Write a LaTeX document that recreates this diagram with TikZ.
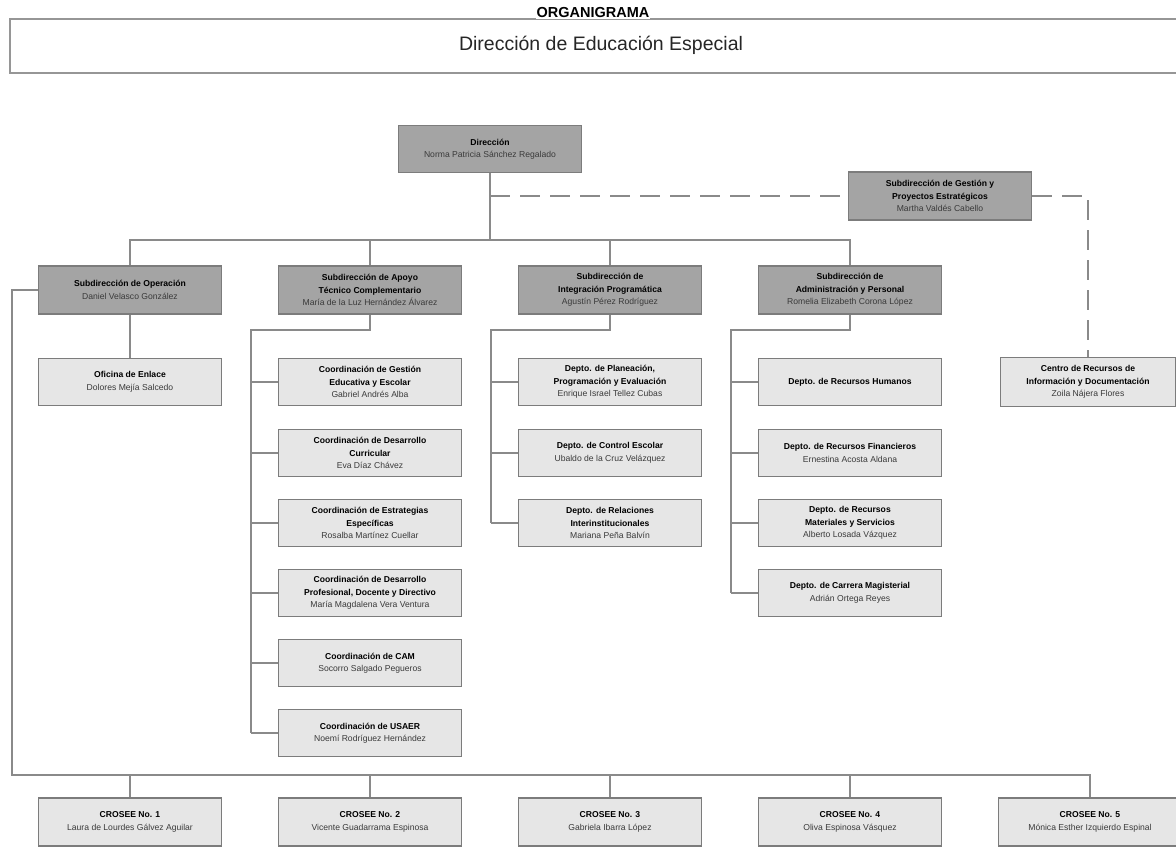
\documentclass[tikz,border=0pt]{standalone}
\usepackage{fontspec}
\setmainfont{Liberation Sans}
\definecolor{darkfill}{HTML}{A4A4A4}
\definecolor{lightfill}{HTML}{E6E6E6}
\definecolor{edgegray}{HTML}{7C7C7C}
\definecolor{wiregray}{HTML}{8A8A8A}
\definecolor{namegray}{HTML}{3A3A3A}
\newcommand{\who}[1]{\textcolor{namegray}{#1}}

\begin{document}
\begin{tikzpicture}[x=1pt,y=-1pt,
        unit/.style={draw=edgegray, line width=1.5pt, minimum width=183pt, minimum height=47pt,
            align=center, inner sep=2pt, font=\fontsize{8.6}{12.5}\selectfont},
        topunit/.style={unit, fill=darkfill},
        lowunit/.style={unit, fill=lightfill},
        wire/.style={draw=wiregray, line width=1.6pt},
        dashwire/.style={wire, dash pattern=on 20pt off 10pt}]
    \clip (0,0) rectangle (1176,848);
    \fill[white] (0,0) rectangle (1176,848);

    % encabezado
    \draw[edgegray!80, line width=1.2pt] (10,19) rectangle (1190,73);
    \node[fill=white, inner sep=1pt, font=\fontsize{14.5}{16}\selectfont\bfseries] (org) at (593,13) {ORGANIGRAMA};
    \node[font=\fontsize{19.5}{21}\selectfont, text=black!85] (dee) at (601,45) {Dirección de Educación Especial};

    % dirección y subdirecciones
    \node[topunit] (dir) at (490,149) {\textbf{Dirección}\\\who{Norma Patricia Sánchez Regalado}};
    \node[topunit, minimum height=48pt] (sgpe) at (940,196) {\textbf{Subdirección de Gestión y}\\\textbf{Proyectos Estratégicos}\\\who{Martha Valdés Cabello}};
    \node[topunit, minimum height=48pt] (sop) at (130,290) {\textbf{Subdirección de Operación}\\\who{Daniel Velasco González}};
    \node[topunit, minimum height=48pt] (sapoyo) at (370,290) {\textbf{Subdirección de Apoyo}\\\textbf{Técnico Complementario}\\\who{María de la Luz Hernández Álvarez}};
    \node[topunit, minimum height=48pt] (sint) at (610,290) {\textbf{Subdirección de}\\\textbf{Integración Programática}\\\who{Agustín Pérez Rodríguez}};
    \node[topunit, minimum height=48pt] (sadm) at (850,290) {\textbf{Subdirección de}\\\textbf{Administración y Personal}\\\who{Romelia Elizabeth Corona López}};

    \coordinate (busT) at (0,240);
    \draw[wire] (dir.south) -- (dir.south |- busT);
    \draw[wire] (sop.north) -- (sop.north |- busT) -- (sadm.north |- busT) -- (sadm.north);
    \foreach \s in {sapoyo,sint}
        \draw[wire] (\s.north) -- (\s.north |- busT);

    % oficina y centro
    \node[lowunit] (ofi) at (130,382) {\textbf{Oficina de Enlace}\\\who{Dolores Mejía Salcedo}};
    \node[lowunit, minimum width=175pt, minimum height=49pt] (centro) at (1088,382) {\textbf{Centro de Recursos de}\\\textbf{Información y Documentación}\\\who{Zoila Nájera Flores}};
    \draw[wire] (sop.south) -- (ofi.north);
    \draw[dashwire] (dir.south |- sgpe.west) -- (sgpe.west);
    \draw[dashwire] (sgpe.east) -| (centro.north);

    % coordinaciones
    \node[lowunit] (c1) at (370,382) {\textbf{Coordinación de Gestión}\\\textbf{Educativa y Escolar}\\\who{Gabriel Andrés Alba}};
    \node[lowunit] (c2) at (370,453) {\textbf{Coordinación de Desarrollo}\\\textbf{Curricular}\\\who{Eva Díaz Chávez}};
    \node[lowunit] (c3) at (370,523) {\textbf{Coordinación de Estrategias}\\\textbf{Específicas}\\\who{Rosalba Martínez Cuellar}};
    \node[lowunit] (c4) at (370,593) {\textbf{Coordinación de Desarrollo}\\\textbf{Profesional, Docente y Directivo}\\\who{María Magdalena Vera Ventura}};
    \node[lowunit] (c5) at (370,663) {\textbf{Coordinación de CAM}\\\who{Socorro Salgado Pegueros}};
    \node[lowunit] (c6) at (370,733) {\textbf{Coordinación de USAER}\\\who{Noemí Rodríguez Hernández}};
    \coordinate (ta) at (251,330);
    \draw[wire] (sapoyo.south) |- (ta) -- (ta |- c6.west);
    \foreach \c in {c1,c2,c3,c4,c5,c6}
        \draw[wire] (ta |- \c.west) -- (\c.west);

    % integración programática
    \node[lowunit] (i1) at (610,382) {\textbf{Depto. de Planeación,}\\\textbf{Programación y Evaluación}\\\who{Enrique Israel Tellez Cubas}};
    \node[lowunit] (i2) at (610,453) {\textbf{Depto. de Control Escolar}\\\who{Ubaldo de la Cruz Velázquez}};
    \node[lowunit] (i3) at (610,523) {\textbf{Depto. de Relaciones}\\\textbf{Interinstitucionales}\\\who{Mariana Peña Balvín}};
    \coordinate (ti) at (491,330);
    \draw[wire] (sint.south) |- (ti) -- (ti |- i3.west);
    \foreach \c in {i1,i2,i3}
        \draw[wire] (ti |- \c.west) -- (\c.west);

    % administración y personal
    \node[lowunit] (a1) at (850,382) {\textbf{Depto. de Recursos Humanos}};
    \node[lowunit] (a2) at (850,453) {\textbf{Depto. de Recursos Financieros}\\\who{Ernestina Acosta Aldana}};
    \node[lowunit] (a3) at (850,523) {\textbf{Depto. de Recursos}\\\textbf{Materiales y Servicios}\\\who{Alberto Losada Vázquez}};
    \node[lowunit] (a4) at (850,593) {\textbf{Depto. de Carrera Magisterial}\\\who{Adrián Ortega Reyes}};
    \coordinate (tad) at (731,330);
    \draw[wire] (sadm.south) |- (tad) -- (tad |- a4.west);
    \foreach \c in {a1,a2,a3,a4}
        \draw[wire] (tad |- \c.west) -- (\c.west);

    % CROSEE
    \node[lowunit, minimum height=48pt] (cr1) at (130,822) {\textbf{CROSEE No. 1}\\\who{Laura de Lourdes Gálvez Aguilar}};
    \node[lowunit, minimum height=48pt] (cr2) at (370,822) {\textbf{CROSEE No. 2}\\\who{Vicente Guadarrama Espinosa}};
    \node[lowunit, minimum height=48pt] (cr3) at (610,822) {\textbf{CROSEE No. 3}\\\who{Gabriela Ibarra López}};
    \node[lowunit, minimum height=48pt] (cr4) at (850,822) {\textbf{CROSEE No. 4}\\\who{Oliva Espinosa Vásquez}};
    \node[lowunit, minimum height=48pt] (cr5) at (1090,822) {\textbf{CROSEE No. 5}\\\who{Mónica Esther Izquierdo Espinal}};
    \coordinate (tl) at (12,775);
    \draw[wire] (sop.west) -| (tl) -- (cr5.north |- tl) -- (cr5.north);
    \foreach \c in {cr1,cr2,cr3,cr4}
        \draw[wire] (\c.north |- tl) -- (\c.north);
\end{tikzpicture}
\end{document}
